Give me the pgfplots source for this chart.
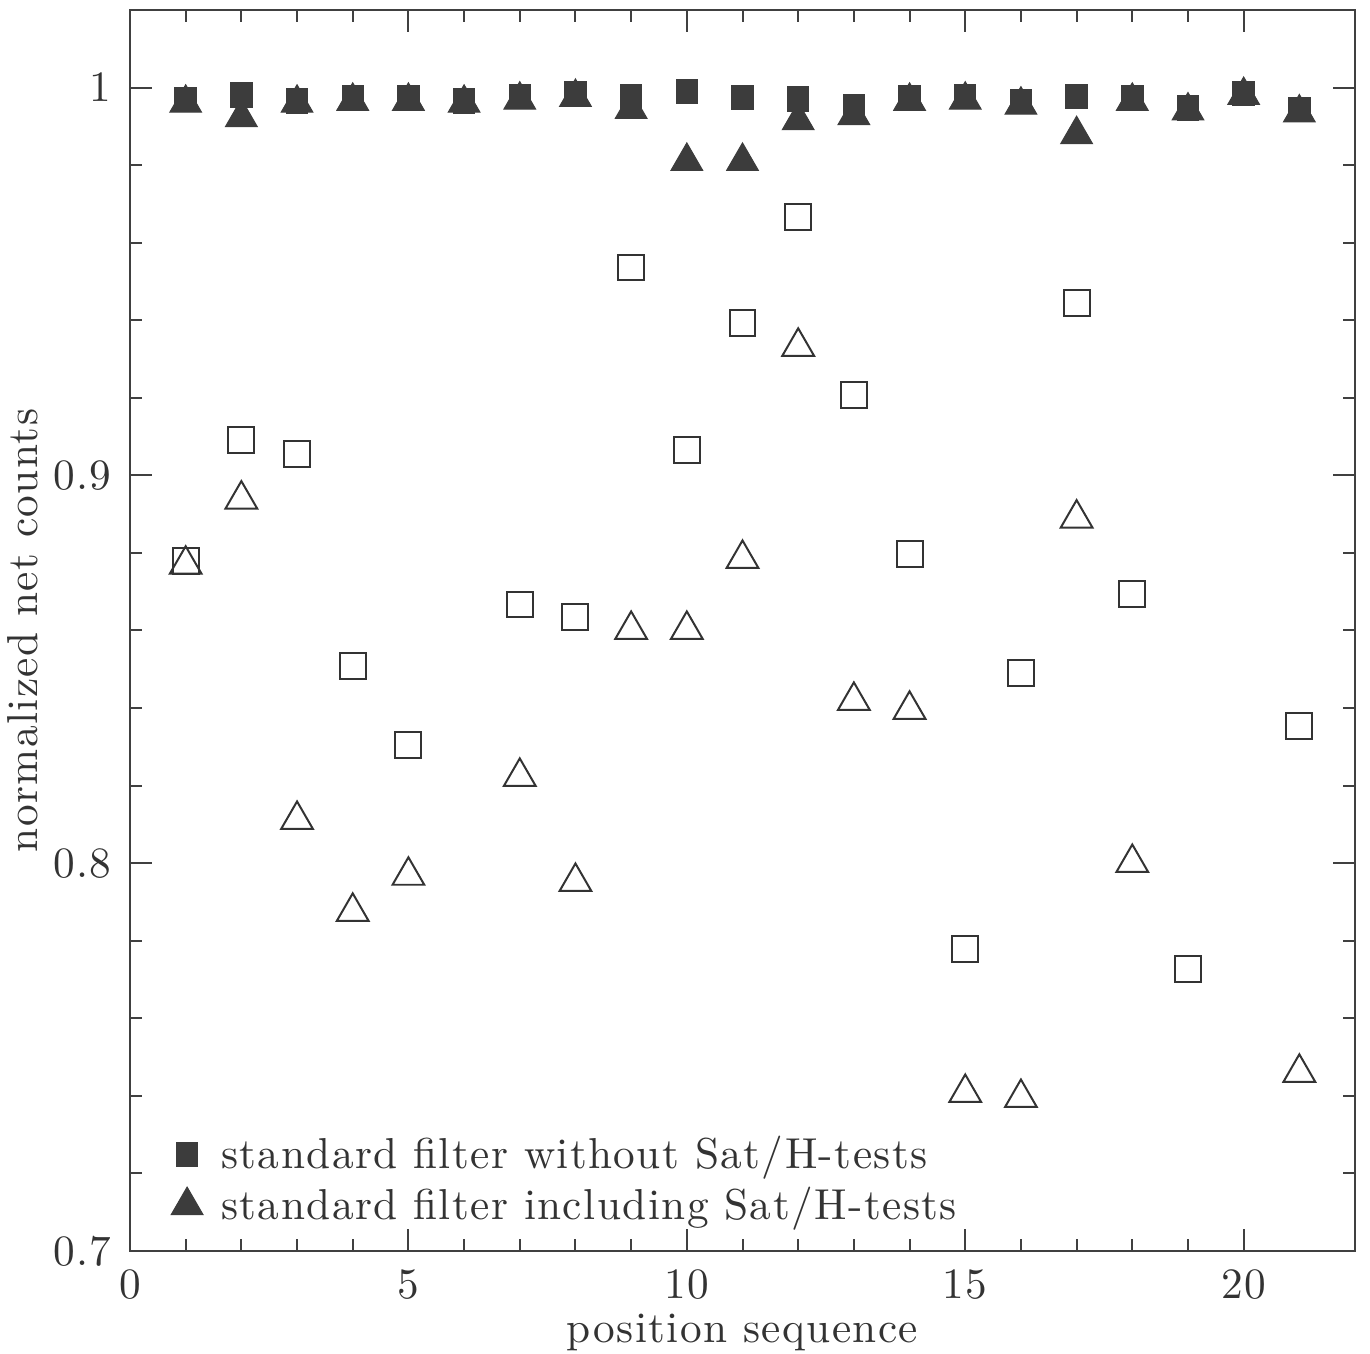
\documentclass[border=0pt]{standalone}
\usepackage{fontspec}
\usepackage{pgfplots}
\pgfplotsset{compat=1.18}
\newfontfamily\spc{lmroman10-regular.otf}[LetterSpace=3.3]
\definecolor{mk}{HTML}{3C3C3C}
\definecolor{tx}{HTML}{333333}
\begin{document}
\begin{tikzpicture}
\begin{axis}[name=ax, scale only axis, width=368pt, height=372.8pt,
  xmin=0, xmax=22, ymin=0.7, ymax=1.02,
  xtick={0,5,10,15,20}, minor x tick num=4,
  ytick={0.7,0.8,0.9,1}, minor y tick num=4,
  tick align=inside, major tick length=6.6pt, minor tick length=3.6pt,
  axis line style={black!75, line width=0.6pt},
  every tick/.style={black!75, line width=0.6pt},
  /pgf/number format/assume math mode=true,
  yticklabel style={/pgf/number format/fixed, /pgf/number format/precision=2},
  tick label style={font=\spc\fontsize{13}{15}\selectfont, text=tx},
  xticklabel style={yshift=-2pt},
  yticklabel style={xshift=-2pt},
  xlabel={position sequence}, ylabel={normalized net counts},
  xlabel style={at={(axis description cs:0.5,0)}, anchor=base, yshift=-27.5pt, font=\spc\fontsize{13}{15}\selectfont, text=tx},
  ylabel style={at={(axis description cs:-0.0759,0.5)}, anchor=base, font=\spc\fontsize{13}{15}\selectfont, text=tx},
  legend style={at={(rel axis cs:0.025,0.104)}, anchor=north west, draw=none, fill=none,
    font=\spc\fontsize{13}{15}\selectfont, text=tx, row sep=0pt,
    /tikz/every odd column/.style={column sep=3.5pt}},
  legend cell align=left,
]
\addplot[only marks, mark=square*, mark size=3.7pt, color=mk, mark options={xscale=0.87, line width=0.3pt}] coordinates {
(1,0.9969)(2,0.998)(3,0.9966)(4,0.9974)(5,0.9974)(6,0.9966)(7,0.9977)(8,0.9985)(9,0.9977)(10,0.999)
(11,0.9974)(12,0.997)(13,0.995)(14,0.9974)(15,0.9977)(16,0.9964)(17,0.9977)(18,0.9974)(19,0.9948)(20,0.9985)(21,0.9943)};
\addlegendentry{standard filter without Sat/H-tests}
\addplot[only marks, mark=triangle*, mark size=5.5pt, color=mk, mark options={line width=0.3pt}] coordinates {
(1,0.996)(2,0.9923)(3,0.996)(4,0.9965)(5,0.9965)(6,0.996)(7,0.9968)(8,0.9975)(9,0.9944)(10,0.981)
(11,0.981)(12,0.9915)(13,0.9928)(14,0.9965)(15,0.9968)(16,0.9955)(17,0.9879)(18,0.9965)(19,0.994)(20,0.998)(21,0.9935)};
\addlegendentry{standard filter including Sat/H-tests}
\addplot[only marks, mark=square, mark size=3.9pt, color=black!80, mark options={line width=0.6pt}, forget plot] coordinates {
(1,0.878)(2,0.909)(3,0.9056)(4,0.8509)(5,0.8305)(7,0.8667)(8,0.8636)(9,0.9536)(10,0.9066)
(11,0.9394)(12,0.9667)(13,0.9208)(14,0.8798)(15,0.7779)(16,0.8491)(17,0.9445)(18,0.8695)(19,0.7728)(21,0.8354)};
\addplot[only marks, mark=triangle, mark size=5.5pt, color=black!80, mark options={line width=0.6pt}, forget plot] coordinates {
(1,0.877)(2,0.8938)(3,0.8112)(4,0.7875)(5,0.7968)(7,0.8223)(8,0.7952)(9,0.8602)(10,0.8602)
(11,0.8785)(12,0.9332)(13,0.8419)(14,0.8396)(15,0.7408)(16,0.7395)(17,0.8889)(18,0.8001)(21,0.746)};
\end{axis}
\path (ax.south west) ++(-39.05pt,-30.94pt) coordinate (bbA);
\path (ax.north east) ++(4.5pt,3pt) coordinate (bbB);
\pgfresetboundingbox
\path (bbA) rectangle (bbB);
\end{tikzpicture}
\end{document}
